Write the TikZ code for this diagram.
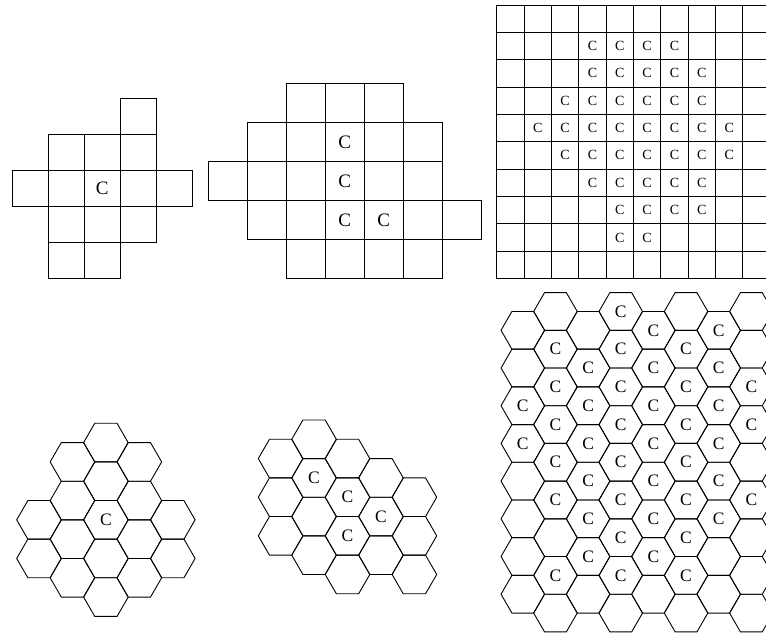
\documentclass[tikz,border=0pt]{standalone}
\usepackage{fontspec}
\setmainfont{Liberation Serif}

\begin{document}
\begin{tikzpicture}[x=1pt, y=-1pt, line width=0.9pt,
    cellA/.style={draw, minimum size=36.1pt, inner sep=0pt},
    cellB/.style={draw, minimum size=39pt, inner sep=0pt},
    cellC/.style={draw, minimum size=27.35pt, inner sep=0pt},
    bigC/.style={inner sep=0pt, font=\fontsize{19}{19}\selectfont},
    smallC/.style={inner sep=0pt, font=\fontsize{14}{14}\selectfont},
    hexC/.style={inner sep=0pt, font=\fontsize{17.5}{17.5}\selectfont},
    hexline/.style={draw, line join=miter}
]
\useasboundingbox (0,0) rectangle (766,635);
\clip (0,0) rectangle (766,635);

% square cells, first cluster
\foreach \c/\r in {3/0,1/1,2/1,3/1,0/2,1/2,2/2,3/2,4/2,1/3,2/3,3/3,1/4,2/4}
  \node[cellA] (a-\c-\r) at ({12+36.1*(\c+0.5)},{98+36.1*(\r+0.5)}) {};
\node[bigC] (ca) at (a-2-2) {C};

% square cells, second cluster
\foreach \r/\ca/\cb in {0/2/4,1/1/5,2/0/5,3/1/6,4/2/5}
  \foreach \c in {\ca,...,\cb}
    \node[cellB] (b-\c-\r) at ({208.3+39*(\c+0.5)},{83.3+39*(\r+0.5)}) {};
\foreach \c/\r in {3/1,3/2,3/3,4/3}
  \node[bigC] (cb-\c-\r) at (b-\c-\r) {C};

% full square grid
\foreach \r in {0,...,9}
  \foreach \c in {0,...,9}
    \node[cellC] (g-\c-\r) at ({496.7+27.35*(\c+0.5)},{5+27.35*(\r+0.5)}) {};
\foreach \r/\ca/\cb in {1/3/6,2/3/7,3/2/7,4/1/8,5/2/8,6/3/7,7/4/7,8/4/5}
  \foreach \c in {\ca,...,\cb}
    \node[smallC] (cg-\c-\r) at (g-\c-\r) {C};

% hexagons, first cluster
\foreach \i/\ka/\kb in {0/2/3,1/0/3,2/0/4,3/0/3,4/2/3}
  \foreach \k in {\ka,...,\kb}
    \draw[hexline] ({39+33.45*\i},{442.6+19.31*mod(\i,2)+38.62*\k})
      +(0:22.3) -- +(60:22.3) -- +(120:22.3) -- +(180:22.3) -- +(240:22.3) -- +(300:22.3) -- cycle;
\node[hexC] (hc) at (105.9,519.84) {C};

% hexagons, second cluster
\foreach \i/\ka/\kb in {0/0/2,1/0/3,2/0/3,3/1/3,4/1/3}
  \foreach \k in {\ka,...,\kb}
    \draw[hexline] ({280.6+33.45*\i},{458.6-19.31*mod(\i,2)+38.62*\k})
      +(0:22.3) -- +(60:22.3) -- +(120:22.3) -- +(180:22.3) -- +(240:22.3) -- +(300:22.3) -- cycle;
\foreach \i/\k in {1/1,2/1,2/2,3/2}
  \node[hexC] (hm-\i-\k) at ({280.6+33.45*\i},{458.6-19.31*mod(\i,2)+38.62*\k}) {C};

% hexagons, full field
\foreach \j in {0,...,7} {
  \pgfmathtruncatemacro\kmax{7+mod(\j,2)}
  \foreach \k in {0,...,\kmax}
    \draw[hexline] ({522.8+32.65*\j},{330.3-18.85*mod(\j,2)+37.7*\k})
      +(0:21.77) -- +(60:21.77) -- +(120:21.77) -- +(180:21.77) -- +(240:21.77) -- +(300:21.77) -- cycle;
}
\foreach \j/\ks in {0/{2,3},1/{1,2,3,4,5,7},2/{1,2,3,4,5,6},3/{0,1,2,3,4,5,6,7},4/{0,1,2,3,4,5,6},5/{1,2,3,4,5,6,7},6/{0,1,2,3,4,5},7/{2,3,5}}
  \foreach \k in \ks
    \node[hexC] (hf-\j-\k) at ({522.8+32.65*\j},{330.3-18.85*mod(\j,2)+37.7*\k}) {C};
\end{tikzpicture}
\end{document}
